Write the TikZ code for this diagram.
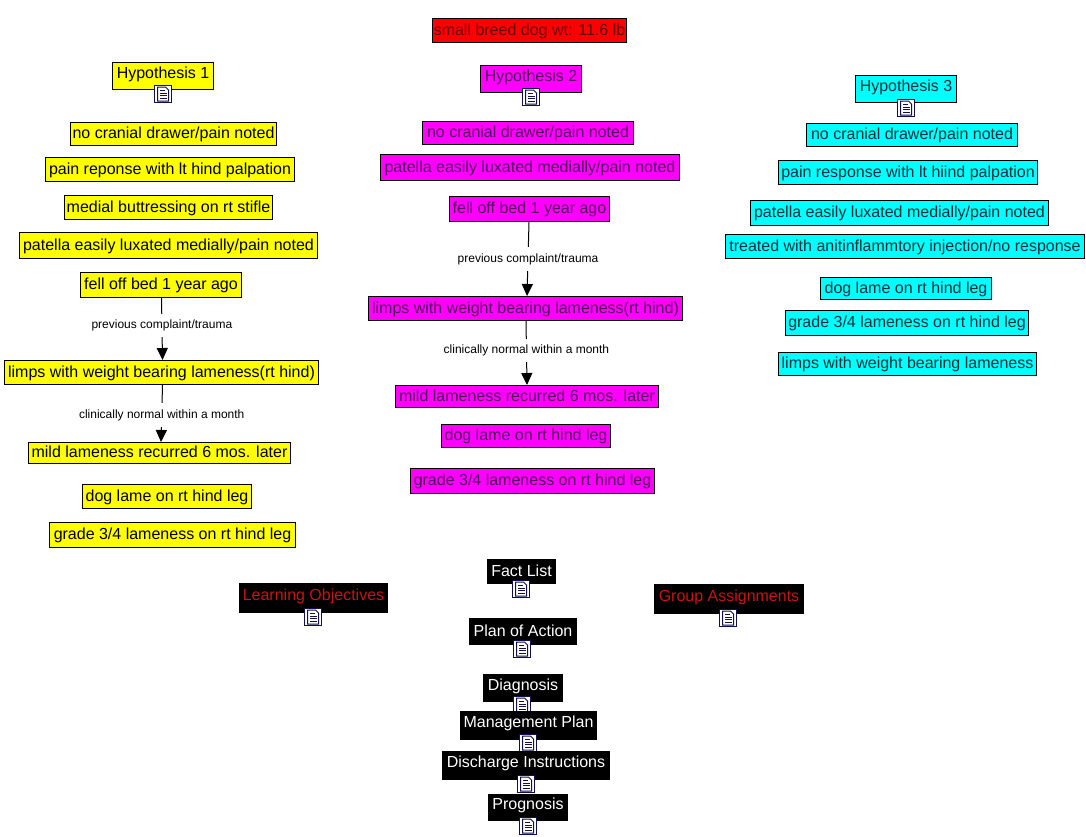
\documentclass[tikz,border=0pt]{standalone}
\usepackage{fontspec}
\setmainfont{Liberation Sans}
\usetikzlibrary{arrows.meta,calc}
\definecolor{inknavy}{HTML}{10104A}
\definecolor{txtred}{HTML}{680000}
\definecolor{txtmag}{HTML}{50005A}
\definecolor{txtcyan}{HTML}{003038}
\definecolor{objred}{HTML}{C81414}
\definecolor{fillyel}{RGB}{255,255,0}
\definecolor{fillmag}{RGB}{255,0,255}
\definecolor{fillcy}{RGB}{0,255,255}
\definecolor{fillrd}{RGB}{255,0,0}
\tikzset{
  x=1pt,y=-1pt,
  boxbase/.style={rectangle,inner sep=0pt,line width=1pt,draw=black,align=center,font=\fontsize{16}{18}\selectfont,text height=13pt,text depth=3.5pt},
  headbox/.style={text height=11.5pt,text depth=7.5pt},
  yel/.style={boxbase,fill=fillyel,text=black},
  mag/.style={boxbase,fill=fillmag,text=txtmag},
  cy/.style={boxbase,fill=fillcy,text=txtcyan},
  rd/.style={boxbase,fill=fillrd,text=txtred},
  blk/.style={boxbase,fill=black,text=white},
  blkr/.style={boxbase,fill=black,text=objred},
  iconbox/.style={rectangle,draw=inknavy,fill=white,line width=1pt,minimum size=17.5pt,inner sep=0pt},
  pageline/.style={draw=inknavy,line width=1pt},
  conn/.style={draw=black,line width=1pt,-{Triangle[length=12pt,width=11pt]}},
  lab/.style={fill=white,inner xsep=2pt,inner ysep=6pt,yshift=-1.5pt,text=black,font=\fontsize{12}{14}\selectfont}
}
\newcommand{\bx}[7]{\node[#6,minimum width={#4-#2-1},minimum height={#5-#3-1}] (#1) at ({(#2+#4)/2},{(#3+#5)/2}) {#7};}
\newcommand{\icn}[3]{\node[iconbox] (#1) at (#2,#3) {};
  \draw[pageline,fill=white] ($(#1.center)+(-5.5,-7)$) -- ($(#1.center)+(2.5,-7)$) -- ($(#1.center)+(5.5,-4)$) -- ($(#1.center)+(5.5,7)$) -- ($(#1.center)+(-5.5,7)$) -- cycle;
  \draw[pageline] ($(#1.center)+(-3,-3.5)$) -- ($(#1.center)+(2,-3.5)$) ($(#1.center)+(-3,-1)$) -- ($(#1.center)+(3.5,-1)$) ($(#1.center)+(-3,1.5)$) -- ($(#1.center)+(3.5,1.5)$) ($(#1.center)+(-3,4)$) -- ($(#1.center)+(3.5,4)$);}
\begin{document}
\begin{tikzpicture}
\useasboundingbox (0,0) rectangle (1086,836);
\fill[white] (0,0) rectangle (1086,836);
\bx{top}{432}{18}{627}{43}{rd}{small breed dog wt: 11.6 lb}
% Hypothesis 1
\bx{ha}{112}{62}{214}{90}{yel,headbox}{Hypothesis 1}
\icn{iha}{163}{94}
\bx{aa}{70}{122}{277}{146}{yel}{no cranial drawer/pain noted}
\bx{ab}{45}{157}{295}{182}{yel}{pain reponse with lt hind palpation}
\bx{ac}{64}{195}{273}{220}{yel}{medial buttressing on rt stifle}
\bx{ad}{19}{232}{318}{259}{yel}{patella easily luxated medially/pain noted}
\bx{ae}{80}{272}{242}{298}{yel}{fell off bed 1 year ago}
\bx{af}{4}{360}{319}{385}{yel}{limps with weight bearing lameness(rt hind)}
\bx{ag}{28}{442}{291}{464}{yel}{mild lameness recurred 6 mos. later}
\bx{ah}{82}{484}{252}{509}{yel}{dog lame on rt hind leg}
\bx{ai}{49}{522}{296}{548}{yel}{grade 3/4 lameness on rt hind leg}
% Hypothesis 2
\bx{hb}{480}{65}{582}{93}{mag,headbox}{Hypothesis 2}
\icn{ihb}{531}{97}
\bx{ba}{422}{121}{634}{145}{mag}{no cranial drawer/pain noted}
\bx{bb}{380}{154}{680}{181}{mag}{patella easily luxated medially/pain noted}
\bx{bc}{449}{196}{610}{222}{mag}{fell off bed 1 year ago}
\bx{bd}{368}{296}{683}{321}{mag}{limps with weight bearing lameness(rt hind)}
\bx{be}{395}{385}{659}{408}{mag}{mild lameness recurred 6 mos. later}
\bx{bf}{441}{424}{611}{448}{mag}{dog lame on rt hind leg}
\bx{bg}{410}{468}{655}{494}{mag}{grade 3/4 lameness on rt hind leg}
% Hypothesis 3
\bx{hc}{855}{75}{957}{103}{cy,headbox}{Hypothesis 3}
\icn{ihc}{906}{108}
\bx{ca}{806}{123}{1018}{147}{cy}{no cranial drawer/pain noted}
\bx{cb}{778}{160}{1038}{185}{cy}{pain response with lt hiind palpation}
\bx{cc}{750}{200}{1049}{226}{cy}{patella easily luxated medially/pain noted}
\bx{cd}{725}{234}{1085}{259}{cy}{treated with anitinflammtory injection/no response}
\bx{ce}{820}{277}{992}{300}{cy}{dog lame on rt hind leg}
\bx{cf}{785}{310}{1029}{336}{cy}{grade 3/4 lameness on rt hind leg}
\bx{cg}{778}{352}{1037}{376}{cy}{limps with weight bearing lameness}
% Connectors
\draw[conn] ([xshift=0.5pt]ae.south) -- node[lab,pos=0.42] {previous complaint/trauma} ([xshift=1pt]af.north);
\draw[conn] ([xshift=1pt]af.south) -- node[lab,pos=0.5] {clinically normal within a month} ([xshift=1.5pt]ag.north);
\draw[conn] ([xshift=-0.5pt]bc.south) -- node[lab,pos=0.48] {previous complaint/trauma} ([xshift=1.5pt]bd.north);
\draw[conn] ([xshift=0.5pt]bd.south) -- node[lab,pos=0.44] {clinically normal within a month} (be.north);
% Bottom group
\bx{fa}{487}{559}{556}{584}{blk}{Fact List}
\icn{ifa}{521}{589}
\bx{fb}{469}{618}{577}{645}{blk}{Plan of Action}
\icn{ifb}{522}{649}
\bx{fc}{483}{674}{563}{702}{blk,headbox}{Diagnosis}
\icn{ifc}{522}{705}
\bx{fd}{460}{711}{597}{740}{blk,headbox}{Management Plan}
\icn{ifd}{528}{743}
\bx{fe}{442}{751}{610}{780}{blk,headbox}{Discharge Instructions}
\icn{ife}{526}{784}
\bx{ff}{488}{794}{568}{821}{blk,headbox}{Prognosis}
\icn{iff}{528}{826}
\bx{lo}{239}{583}{388}{613}{blkr,headbox}{Learning Objectives}
\icn{ilo}{313}{617}
\bx{ga}{654}{584}{804}{614}{blkr,headbox}{Group Assignments}
\icn{iga}{728}{618}
\end{tikzpicture}
\end{document}
